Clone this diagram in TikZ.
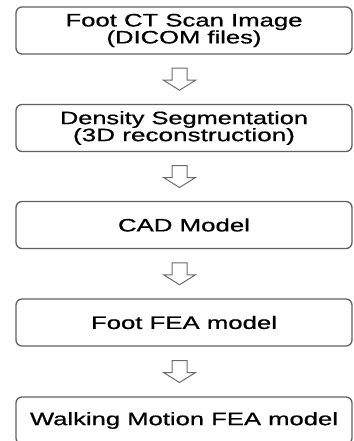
\documentclass[tikz,border=0pt]{standalone}
\usepackage{fontspec}
\usepackage{graphicx}
\setmainfont{Liberation Sans}[FakeBold=0.6]
\usetikzlibrary{calc}

% stretch a line of text to a given width, keeping its height
\newcommand{\wline}[2]{\resizebox{#1}{\height}{#2}}

\begin{document}
\begin{tikzpicture}[x=1pt, y=-1pt,
  stage/.style={draw=black!62, line width=1.3pt, rounded corners=6pt,
    minimum width=336pt, minimum height=47pt, inner sep=0pt,
    align=center, font=\fontsize{18}{17}\selectfont, text=black},
  arrowline/.style={draw=black!58, line width=1pt, line join=miter},
  downarrow/.pic={
    \draw[arrowline] (-7.5,-11) -- (7.5,-11) -- (7.5,1) -- (16,1)
      -- (0,11) -- (-16,1) -- (-7.5,1) -- cycle;
  }]
  \useasboundingbox (0,0) rectangle (353,441);
  \clip (0,0) rectangle (353,441);

  % processing stages
  \node[stage] (b1) at (184,30.5)
    {\wline{237pt}{Foot CT Scan Image}\\\wline{155pt}{(DICOM files)}};
  \node[stage] (b2) at (184,128)
    {\wline{248pt}{Density Segmentation}\\\wline{222pt}{(3D reconstruction)}};
  \node[stage] (b3) at (184,225) {\wline{132pt}{CAD Model}};
  \node[stage] (b4) at (184,322.5) {\wline{186pt}{Foot FEA model}};
  \node[stage] (b5) at (184,420.5) {\wline{308pt}{Walking Motion FEA model}};

  % hollow block arrows between consecutive stages
  \pic at ([xshift=-4.5pt]$(b1.south)!0.5!(b2.north)$) {downarrow};
  \pic at ([xshift=-4.5pt]$(b2.south)!0.5!(b3.north)$) {downarrow};
  \pic at ([xshift=-4.5pt]$(b3.south)!0.5!(b4.north)$) {downarrow};
  \pic at ([xshift=-4.5pt]$(b4.south)!0.5!(b5.north)$) {downarrow};
\end{tikzpicture}
\end{document}
